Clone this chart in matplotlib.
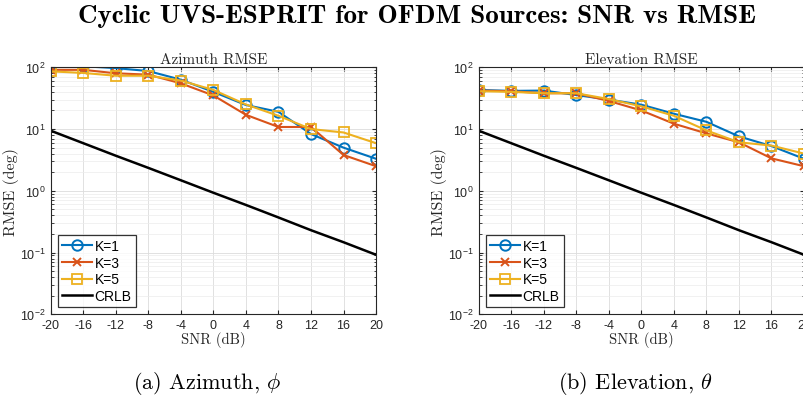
# Cyclic UVS-ESPRIT (OFDM): SNR vs RMSE, azimuth / elevation panels
import numpy as np
import matplotlib
matplotlib.use("Agg")
import matplotlib.pyplot as plt

plt.rcParams["font.family"] = ["Liberation Sans", "DejaVu Sans"]
plt.rcParams["axes.unicode_minus"] = False

snr = [-20, -16, -12, -8, -4, 0, 4, 8, 12, 16, 20]

az_k1 = [115, 104, 97, 87, 63, 40, 24.5, 19, 8.3, 5.0, 3.3]
az_k3 = [91, 91, 80, 76, 55, 35, 17, 10.8, 10.8, 3.8, 2.5]
az_k5 = [86, 81, 73, 73, 61, 43, 25, 16.4, 10, 8.8, 5.9]

el_k1 = [43, 41.5, 42, 35.5, 30, 24.8, 17.7, 13.1, 7.6, 5.3, 3.3]
el_k3 = [42, 41, 38, 38, 28.5, 20, 12.2, 8.5, 6.1, 3.35, 2.5]
el_k5 = [41, 40, 38, 38, 30.6, 23.3, 16.4, 9.5, 6.1, 5.4, 4.0]

crlb = [9.4, 5.9, 3.7, 2.35, 1.48, 0.93, 0.59, 0.37, 0.23, 0.147, 0.092]

panels = [("Azimuth RMSE", az_k1, az_k3, az_k5, r"(a) Azimuth, $\phi$"),
          ("Elevation RMSE", el_k1, el_k3, el_k5, r"(b) Elevation, $\theta$")]

fig = plt.figure(figsize=(8.04, 4.02), dpi=100)
lefts = [0.0631, 0.5954]
txt = "#262626"

for (ttl, k1, k3, k5, cap), left in zip(panels, lefts):
    ax = fig.add_axes([left, 0.2157, 0.4046, 0.6144])
    ax.plot(snr, k1, color="#0072BD", marker="o", ms=7.5, mfc="none", mew=1.4, lw=1.5, label="K=1")
    ax.plot(snr, k3, color="#D95319", marker="x", ms=5.5, mew=1.4, lw=1.5, label="K=3")
    ax.plot(snr, k5, color="#EDB120", marker="s", ms=6.5, mfc="none", mew=1.3, lw=1.5, label="K=5")
    ax.plot(snr, crlb, color="black", lw=1.8, label="CRLB")
    ax.set_yscale("log")
    ax.set_ylim(1e-2, 1e2)
    ax.set_xlim(-20, 20)
    ax.set_xticks(snr)
    ax.grid(True, which="major", color="#dcdcdc", lw=0.6)
    ax.grid(True, which="minor", axis="y", color="#ececec", lw=0.5)
    ax.set_axisbelow(True)
    ax.tick_params(which="both", direction="in", top=True, right=True, labelsize=9,
                   colors=txt, length=3)
    ax.tick_params(which="minor", length=1.8)
    for s in ax.spines.values():
        s.set_color(txt)
        s.set_linewidth(0.8)
    ax.set_title(ttl, family="cmr10", fontsize=11, color=txt, pad=3)
    ax.set_xlabel("SNR (dB)", family="cmr10", fontsize=10.5, color=txt, labelpad=0)
    ax.set_ylabel("RMSE (deg)", family="cmr10", fontsize=11.5, color=txt, labelpad=1)
    leg = ax.legend(loc="lower left", fontsize=10, fancybox=False, edgecolor="black",
                    handlelength=2.2, borderpad=0.3, labelspacing=0.2, handletextpad=0.15,
                    borderaxespad=0.5)
    leg.get_frame().set_linewidth(0.9)
    # subcaptions sit a little left of the axes centre in the original
    fig.text(left + 0.4046 / 2 - 0.0075, 0.047, cap, family="cmr10", math_fontfamily="cm",
             fontsize=16, ha="center", va="center")

fig.text(0.518, 0.958, "Cyclic UVS-ESPRIT for OFDM Sources: SNR vs RMSE", family="cmb10",
         fontsize=19.5, ha="center", va="center")

fig.savefig("out.png", dpi=100)
